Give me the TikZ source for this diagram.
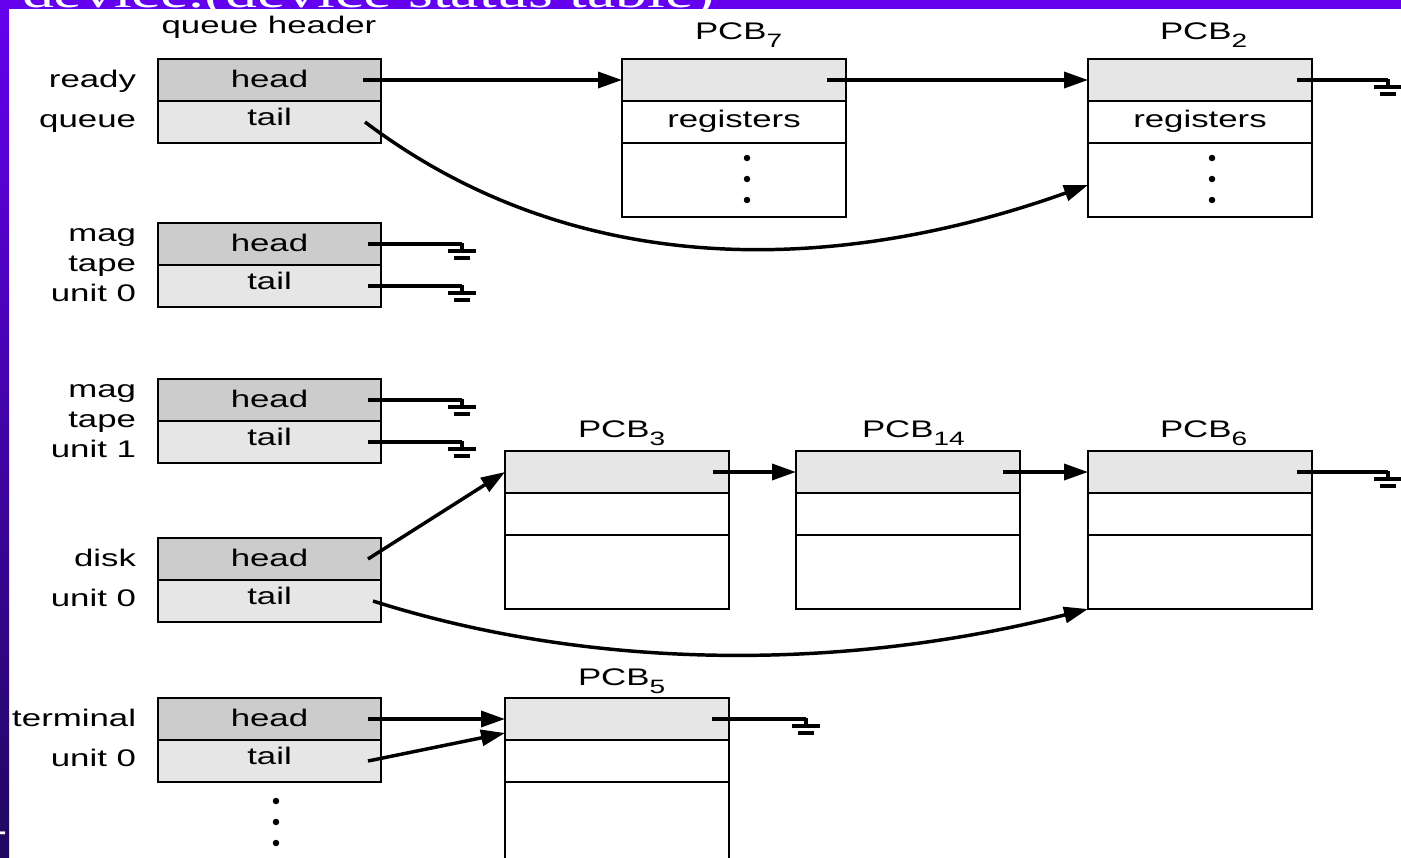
\documentclass[tikz,border=0pt]{standalone}
\usepackage{fontspec}
\setmainfont[FakeStretch=1.45]{Liberation Sans}
\newfontfamily\ttlfont[FakeStretch=1.45]{Liberation Serif}
\usetikzlibrary{arrows.meta}

\definecolor{headgray}{HTML}{CCCCCC}
\definecolor{tailgray}{HTML}{E6E6E6}
\definecolor{violetA}{HTML}{6400EE}
\definecolor{violetB}{HTML}{200860}

\newcommand{\pxu}{0.75pt}
\newcommand{\pcb}[1]{PCB\raisebox{-6pt}{\fontsize{14.5}{14.5}\selectfont #1}}

\tikzset{
  pics/gnd/.style={code={
    \draw[line width=2.6pt] (0,-1) -- (0,7);
    \draw[line width=3.2pt] (-14,7) -- (14,7);
    \draw[line width=3.2pt] (-8,14) -- (8,14);
  }}
}

\begin{document}
\begin{tikzpicture}[x=0.75pt,y=-0.75pt,
  every node/.style={inner sep=0pt, outer sep=0pt},
  txt/.style={font=\fontsize{18}{21}\selectfont},
  field/.style={txt, draw=black, line width=2.2pt, anchor=north west,
    minimum height=42*\pxu, text height=13.5pt, text depth=3pt},
  qhead/.style={field, fill=headgray, minimum width=223*\pxu},
  qtail/.style={field, fill=tailgray, minimum width=223*\pxu, text depth=8pt},
  pcbtop/.style={field, fill=tailgray, minimum width=224*\pxu},
  pcbreg/.style={field, fill=white, minimum width=224*\pxu, text depth=6pt},
  pcbrest/.style={field, fill=white, minimum width=224*\pxu, minimum height=74*\pxu},
  lbl/.style={txt, anchor=base east},
  caption/.style={txt, anchor=base west},
  link/.style={line width=2.6pt, -{Triangle[length=18pt,width=12pt]}},
  wire/.style={line width=2.6pt},
  dot/.style={circle, fill=black, minimum size=6.5*\pxu}
]
\useasboundingbox (0,0) rectangle (1401,857);
\clip (0,0) rectangle (1401,857);

% slide frame: violet band on top and shaded band on the left
\fill[violetA] (0,0) rectangle (1401,9);
\shade[top color=violetA, bottom color=violetB] (0,0) rectangle (9,857);
\begin{scope}
  \clip (0,0) rectangle (1401,9);
  \node[anchor=base west, text=white, font=\ttlfont\fontsize{33}{36}\selectfont]
    (slidetitle) at (22,7) {device.(device status table)};
\end{scope}
\begin{scope}
  \clip (0,0) rectangle (9,857);
  \node[anchor=base east, text=white, font=\ttlfont\fontsize{30}{30}\selectfont]
    (pageno) at (7,840) {4};
\end{scope}

% queue headers
\node[caption, anchor=base] (qhdr) at (269,33) {queue header};

\node[qhead] (rqh) at (158,59)  {head};
\node[qtail] (rqt) at (158,101) {tail};
\node[qhead] (m0h) at (158,223) {head};
\node[qtail] (m0t) at (158,265) {tail};
\node[qhead] (m1h) at (158,379) {head};
\node[qtail] (m1t) at (158,421) {tail};
\node[qhead] (dkh) at (158,538) {head};
\node[qtail] (dkt) at (158,580) {tail};
\node[qhead] (tmh) at (158,698) {head};
\node[qtail] (tmt) at (158,740) {tail};

% device names
\node[lbl] (lready) at (136,87)  {ready};
\node[lbl] (lqueue) at (136,127) {queue};
\node[lbl] (lmag0)  at (136,241) {mag};
\node[lbl] (ltape0) at (136,271) {tape};
\node[lbl] (lunit0) at (136,301) {unit 0};
\node[lbl] (lmag1)  at (136,397) {mag};
\node[lbl] (ltape1) at (136,427) {tape};
\node[lbl] (lunit1) at (136,457) {unit 1};
\node[lbl] (ldisk)  at (136,566) {disk};
\node[lbl] (ldunit) at (136,606) {unit 0};
\node[lbl] (lterm)  at (136,726) {terminal};
\node[lbl] (ltunit) at (136,766) {unit 0};

\node[dot] (qd1) at (276,801) {};
\node[dot] (qd2) at (276,822) {};
\node[dot] (qd3) at (276,843) {};

% process control blocks
\node[caption] (l7) at (695,39) {\pcb{7}};
\node[pcbtop]  (p7a) at (622,59)  {};
\node[pcbreg]  (p7b) at (622,101) {registers};
\node[pcbrest] (p7c) at (622,143) {};
\node[dot] (d71) at (747,158) {};
\node[dot] (d72) at (747,179) {};
\node[dot] (d73) at (747,200) {};

\node[caption] (l2) at (1160,39) {\pcb{2}};
\node[pcbtop]  (p2a) at (1088,59)  {};
\node[pcbreg]  (p2b) at (1088,101) {registers};
\node[pcbrest] (p2c) at (1088,143) {};
\node[dot] (d21) at (1212,158) {};
\node[dot] (d22) at (1212,179) {};
\node[dot] (d23) at (1212,200) {};

\node[caption] (l3) at (578,437) {\pcb{3}};
\node[pcbtop]  (p3a) at (505,451) {};
\node[pcbreg]  (p3b) at (505,493) {};
\node[pcbrest] (p3c) at (505,535) {};

\node[caption] (l14) at (862,437) {\pcb{14}};
\node[pcbtop]  (p14a) at (796,451) {};
\node[pcbreg]  (p14b) at (796,493) {};
\node[pcbrest] (p14c) at (796,535) {};

\node[caption] (l6) at (1160,437) {\pcb{6}};
\node[pcbtop]  (p6a) at (1088,451) {};
\node[pcbreg]  (p6b) at (1088,493) {};
\node[pcbrest] (p6c) at (1088,535) {};

\node[caption] (l5) at (578,685) {\pcb{5}};
\node[pcbtop]  (p5a) at (505,698) {};
\node[pcbreg]  (p5b) at (505,740) {};
\node[pcbrest, minimum height=84*\pxu] (p5c) at (505,782) {};

% ends of the lists
\coordinate (g2) at (1388,80);
\coordinate (g6) at (1388,472);
\coordinate (g5) at (806,719);
\coordinate (gm0h) at (462,244);
\coordinate (gm0t) at (462,286);
\coordinate (gm1h) at (462,400);
\coordinate (gm1t) at (462,442);

% ready queue
\draw[link] ([xshift=-18*\pxu]rqh.east) -- (p7a.west);
\draw[link] ([xshift=-19*\pxu]p7a.east) -- (p2a.west);
\draw[wire] ([xshift=-15*\pxu]p2a.east) -- (g2);
\pic at (g2) {gnd};
\draw[link] ([xshift=-16*\pxu]rqt.east) .. controls (585,288) and (850,270) .. ([yshift=-5*\pxu]p2c.west);

% empty tape queues
\draw[wire] ([xshift=-13*\pxu]m0h.east) -- (gm0h);
\pic at (gm0h) {gnd};
\draw[wire] ([xshift=-13*\pxu]m0t.east) -- (gm0t);
\pic at (gm0t) {gnd};
\draw[wire] ([xshift=-13*\pxu]m1h.east) -- (gm1h);
\pic at (gm1h) {gnd};
\draw[wire] ([xshift=-13*\pxu]m1t.east) -- (gm1t);
\pic at (gm1t) {gnd};

% disk queue
\draw[link] ([xshift=-13*\pxu]dkh.east) -- (p3a.west);
\draw[link] ([xshift=-16*\pxu]p3a.east) -- (p14a.west);
\draw[link] ([xshift=-17*\pxu]p14a.east) -- (p6a.west);
\draw[wire] ([xshift=-15*\pxu]p6a.east) -- (g6);
\pic at (g6) {gnd};
\draw[link] ([xshift=-8*\pxu]dkt.east) .. controls (590,670) and (840,672) .. (p6c.south west);

% terminal queue
\draw[link] ([xshift=-13*\pxu]tmh.east) -- (p5a.west);
\draw[link] ([xshift=-13*\pxu]tmt.east) -- ([yshift=-14*\pxu]p5a.west);
\draw[wire] ([xshift=-17*\pxu]p5a.east) -- (g5);
\pic at (g5) {gnd};
\end{tikzpicture}
\end{document}
